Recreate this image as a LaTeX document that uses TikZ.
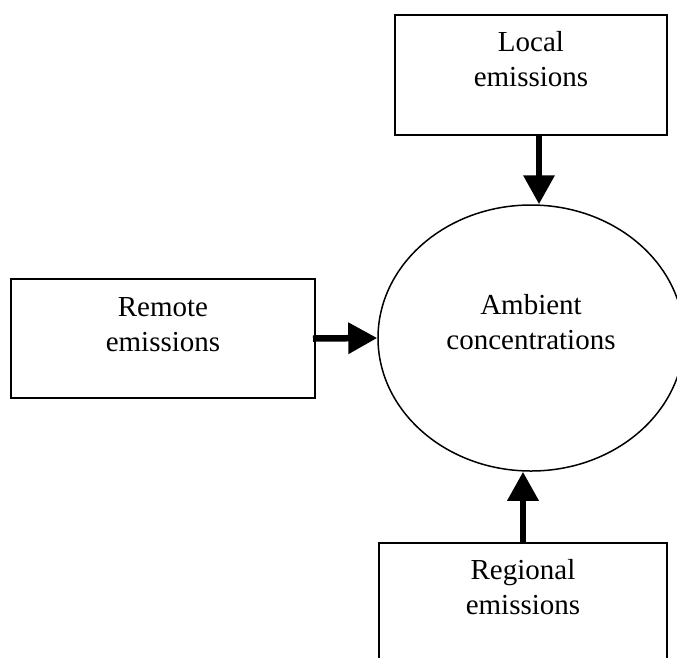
\documentclass[tikz,border=0pt]{standalone}
\usepackage{fontspec}
\setmainfont{Liberation Serif}
\usetikzlibrary{shapes.geometric, arrows.meta, positioning}

\begin{document}
\begin{tikzpicture}[x=1pt, y=-1pt,
    box/.style={draw=black, line width=2pt, rectangle, inner sep=0pt},
    txt/.style={font=\fontsize{29}{35}\selectfont, align=center, inner sep=0pt},
    flow/.style={line width=6.5pt, -{Triangle[width=30pt, length=29pt]}}]

\clip (0,0) rectangle (677,657);

% Emission sources
\node[box, minimum width=272pt, minimum height=120pt] (local) at (531,75) {};
\node[box, minimum width=304pt, minimum height=119pt] (remote) at (163,338.5) {};
\node[box, minimum width=288pt, minimum height=120pt] (regional) at (523,603) {};

\node[txt, below=12.5pt of local.north] (localtxt) {\strut Local\\emissions};
\node[txt, below=13.5pt of remote.north] (remotetxt) {\strut Remote\\emissions};
\node[txt, below=12.5pt of regional.north] (regionaltxt) {\strut Regional\\emissions};

% Receptor
\node[draw=black, line width=1.5pt, ellipse, inner sep=0pt,
      minimum width=306pt, minimum height=266pt] (ambient) at (531,338) {};
\node[txt, anchor=north] (ambienttxt) at ([yshift=48.5pt]ambient.center)
      {\strut Ambient\\concentrations};

% Arrows
\draw[flow] ([xshift=8pt]local.south) -- ([xshift=8pt]ambient.north);
\draw[flow] ([xshift=-3pt]remote.east) -- (ambient.west);
\draw[flow] (regional.north) -- ([xshift=-8pt]ambient.south);

\end{tikzpicture}
\end{document}
